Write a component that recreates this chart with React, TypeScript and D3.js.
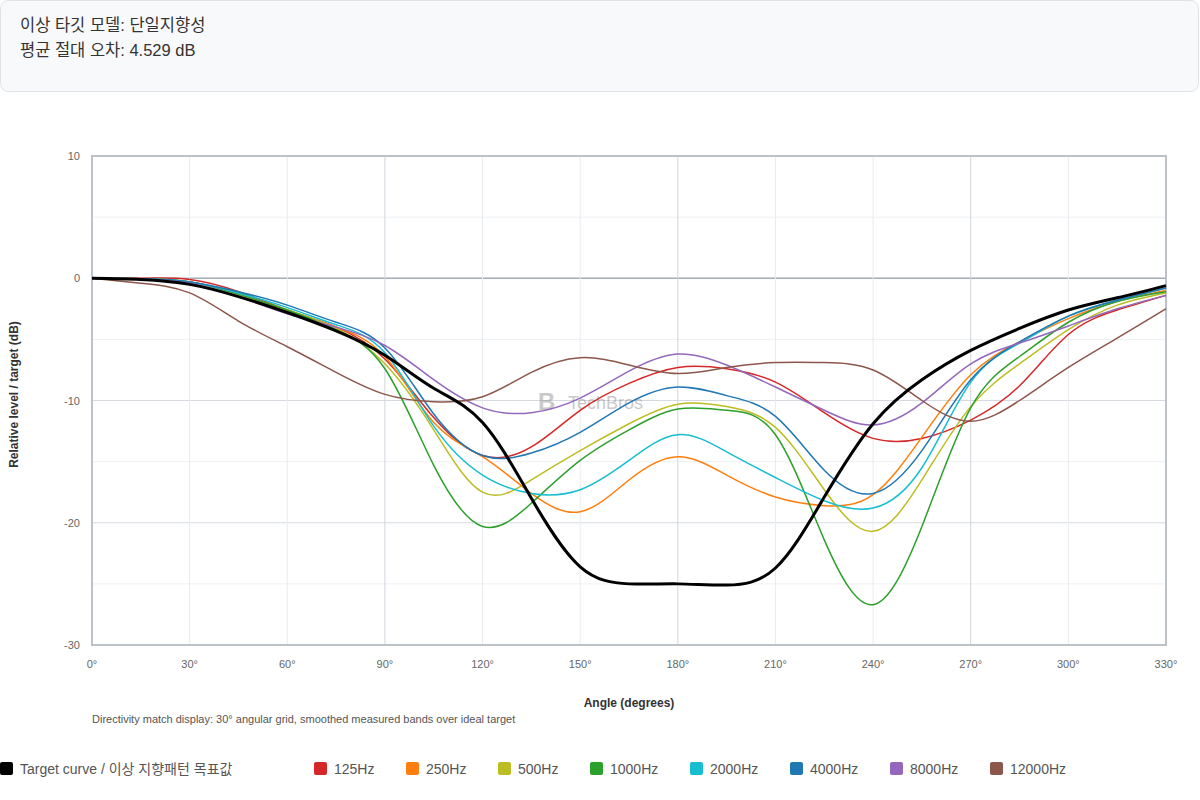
import React from "react";
import * as d3 from "d3";

// angle grid (degrees) and measured values (dB)
const angles = [0, 15, 30, 45, 60, 75, 90, 105, 120, 135, 150, 165, 180, 195, 210, 225, 240, 255, 270, 285, 300, 315, 330];
const targetCurve = [0, -0.1, -0.5, -1.5, -2.8, -4.3, -6.3, -9.0, -11.8, -18.0, -23.6, -25.0, -25.0, -25.1, -23.7, -17.9, -11.9, -8.3, -5.9, -4.1, -2.6, -1.6, -0.6];
const band125 = [0, 0, -0.1, -1.1, -2.6, -4.0, -6.6, -11.4, -14.5, -13.8, -10.8, -8.6, -7.3, -7.4, -8.5, -11.0, -13.1, -13.1, -11.6, -8.8, -4.6, -2.6, -1.4];
const band250 = [0, -0.05, -0.3, -1.3, -2.6, -4.0, -6.4, -11.8, -14.6, -17.6, -19.1, -16.5, -14.6, -16.1, -17.9, -18.6, -17.7, -13.0, -7.9, -5.2, -3.3, -1.9, -1.0];
const band500 = [0, -0.05, -0.3, -1.3, -2.6, -4.1, -7.0, -12.4, -17.5, -16.5, -14.1, -11.9, -10.3, -10.5, -12.2, -17.3, -20.7, -16.5, -10.5, -7.0, -4.2, -2.2, -1.2];
const band1000 = [0, -0.05, -0.3, -1.3, -2.6, -4.2, -7.4, -15.3, -20.3, -18.4, -14.9, -12.4, -10.7, -10.8, -12.8, -21.4, -26.7, -20.3, -10.6, -6.4, -3.6, -1.9, -1.1];
const band2000 = [0, -0.05, -0.3, -1.2, -2.4, -3.8, -6.1, -12.1, -16.1, -17.6, -17.3, -14.9, -12.8, -14.2, -16.3, -18.2, -18.8, -15.5, -8.5, -5.3, -3.1, -1.8, -0.8];
const band4000 = [0, -0.05, -0.3, -1.1, -2.2, -3.6, -5.7, -11.1, -14.5, -14.3, -12.6, -10.2, -8.9, -9.6, -11.3, -15.7, -17.6, -14.1, -8.3, -5.2, -3.1, -1.8, -0.8];
const band8000 = [0, -0.1, -0.4, -1.5, -2.9, -4.0, -5.5, -8.3, -10.6, -11.0, -9.8, -7.6, -6.2, -7.1, -8.9, -10.8, -12.0, -10.2, -7.0, -5.3, -3.9, -2.5, -1.4];
const band12000 = [0, -0.4, -1.2, -3.5, -5.6, -7.7, -9.5, -10.1, -9.7, -7.7, -6.5, -7.1, -7.8, -7.3, -6.9, -6.9, -7.5, -10.0, -11.7, -10.0, -7.3, -4.9, -2.5];

const bandLabels = ["125Hz", "250Hz", "500Hz", "1000Hz", "2000Hz", "4000Hz", "8000Hz", "12000Hz"];
const bandValues = [band125, band250, band500, band1000, band2000, band4000, band8000, band12000];
const targetLabel = "Target curve / 이상 지향패턴 목표값";
const xTicks = [0, 30, 60, 90, 120, 150, 180, 210, 240, 270, 300, 330];
const yTicks = [10, 0, -10, -20, -30];

const colors = ["#d62728", "#ff7f0e", "#bcbd22", "#2ca02c", "#17becf", "#1f77b4", "#9467bd", "#8c564b"];
const legendX = [0, 314, 406, 498, 590, 690, 790, 890, 990];

const W = 1200;
const H = 800;
const plot = { left: 92, right: 1166, top: 156, bottom: 645 };
const font = "'Segoe UI', 'Liberation Sans', 'Noto Sans CJK KR', sans-serif";

const App: React.FC = () => {
  const x = d3.scaleLinear().domain([0, 330]).range([plot.left, plot.right]);
  const y = d3.scaleLinear().domain([-30, 10]).range([plot.bottom, plot.top]);

  const line = d3
    .line<number>()
    .x((_, i) => x(angles[i]))
    .y((d) => y(d))
    .curve(d3.curveNatural);

  const minorY = d3.range(-30, 10.1, 5);
  const gridX = d3.range(30, 330, 30);

  return (
    <svg width={W} height={H} style={{ position: "absolute", left: 0, top: 0, fontFamily: font }}>
      <rect x={0.5} y={0.5} width={W - 2} height={91} rx={8} fill="#f8f9fb" stroke="#dfe3e8" />
      <text x={20} y={31} fontSize={16.5} fill="#333">이상 타깃 모델: 단일지향성</text>
      <text x={20} y={56} fontSize={16.5} fill="#333">평균 절대 오차: 4.529 dB</text>

      {/* grid */}
      {minorY.map((v) => (
        <line
          key={"gy" + v}
          x1={plot.left}
          x2={plot.right}
          y1={y(v)}
          y2={y(v)}
          stroke={v === 0 ? "#a4acb5" : v % 10 === 0 ? "#d6dae0" : "#eef0f3"}
          strokeWidth={v === 0 ? 1.5 : 1}
        />
      ))}
      {gridX.map((v) => (
        <line
          key={"gx" + v}
          x1={x(v)}
          x2={x(v)}
          y1={plot.top}
          y2={plot.bottom}
          stroke={v % 90 === 0 ? "#d0d5db" : "#e8ebef"}
          strokeWidth={1}
        />
      ))}
      <rect
        x={plot.left}
        y={plot.top}
        width={plot.right - plot.left}
        height={plot.bottom - plot.top}
        fill="none"
        stroke="#bcc2c8"
        strokeWidth={2}
      />

      {/* watermark */}
      <g opacity={0.45} fill="#8a8a8a">
        <text x={538} y={410} fontSize={24} fontWeight="bold">B</text>
        <text x={568} y={409} fontSize={18}>TechBros</text>
      </g>

      {/* ticks */}
      {yTicks.map((v) => (
        <text key={"yt" + v} x={80} y={y(v) + 4} fontSize={11} fill="#666" textAnchor="end">
          {v}
        </text>
      ))}
      {xTicks.map((v) => (
        <text key={"xt" + v} x={x(v)} y={668} fontSize={11} fill="#666" textAnchor="middle">
          {v}°
        </text>
      ))}
      <text x={(plot.left + plot.right) / 2} y={707} fontSize={12} fontWeight="bold" fill="#333" textAnchor="middle">
        Angle (degrees)
      </text>
      <text
        transform={`translate(18,${(plot.top + plot.bottom) / 2 - 6}) rotate(-90)`}
        fontSize={12}
        fontWeight="bold"
        fill="#333"
        textAnchor="middle"
      >
        Relative level / target (dB)
      </text>
      <text x={92} y={723} fontSize={11} fill="#555">
        Directivity match display: 30° angular grid, smoothed measured bands over ideal target
      </text>

      {/* series */}
      {bandValues.map((vals, i) => (
        <path key={bandLabels[i]} d={line(vals) || ""} fill="none" stroke={colors[i]} strokeWidth={1.5} />
      ))}
      <path d={line(targetCurve) || ""} fill="none" stroke="#000" strokeWidth={3} />

      {/* legend */}
      {[targetLabel, ...bandLabels].map((lab, i) => (
        <g key={"lg" + lab} transform={`translate(${legendX[i]},762)`}>
          <rect width={13} height={13} rx={2} fill={i === 0 ? "#000" : colors[i - 1]} />
          <text x={20} y={12} fontSize={14} fill="#555">
            {lab}
          </text>
        </g>
      ))}
    </svg>
  );
};

export default App;
